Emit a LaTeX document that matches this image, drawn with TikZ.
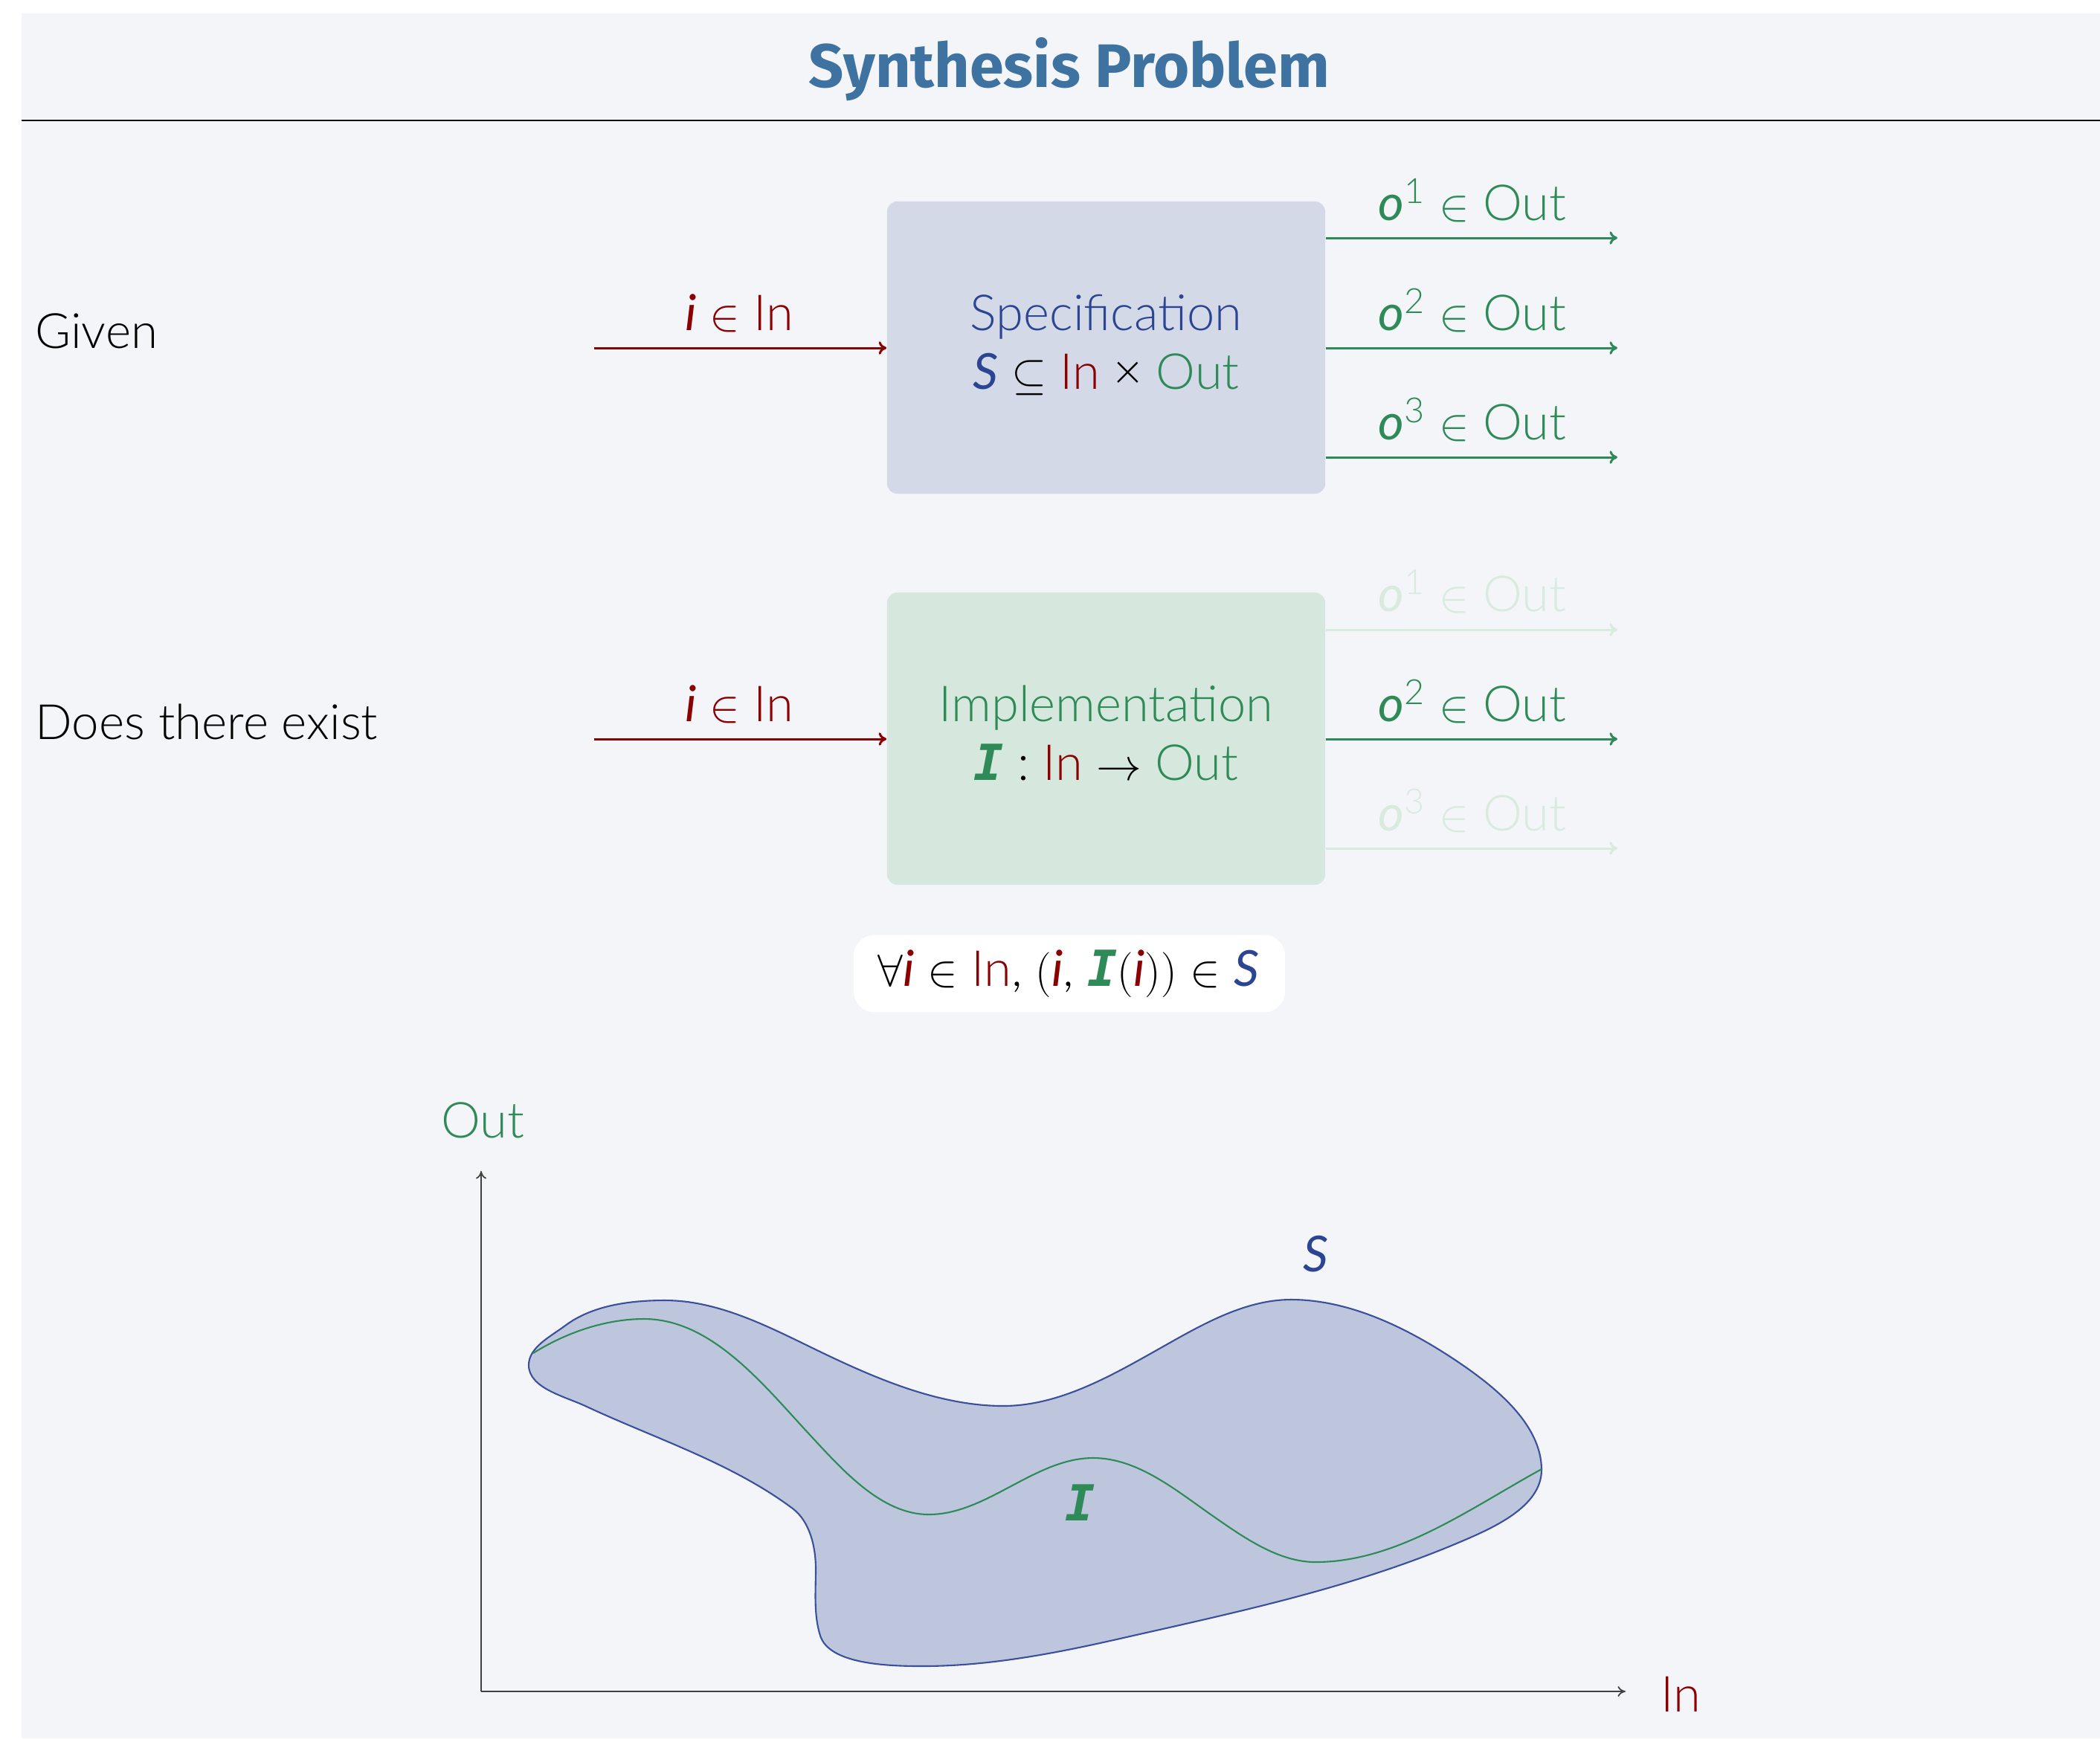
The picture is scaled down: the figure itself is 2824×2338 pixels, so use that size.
\documentclass[tikz,border=0pt]{standalone}
\usepackage{fontspec}
\usetikzlibrary{arrows.meta}
\IfFontExistsTF{Lato Light}{\setmainfont{Lato Light}[ItalicFont=Lato Italic,BoldFont=Lato Bold]}{\setmainfont{Lato}}
\IfFontExistsTF{Lato Italic}{\newfontfamily\latoit{Lato Italic}}{\newfontfamily\latoit{Lato}[UprightFont=*]}
\newfontfamily\titlefont{Fira Sans}
\newfontfamily\monoI{DejaVu Sans Mono}
\definecolor{bgc}{HTML}{F4F5F9}
\definecolor{redc}{HTML}{8B0000}
\definecolor{greenc}{HTML}{2E8B57}
\definecolor{bluec}{HTML}{2B4593}
\definecolor{titlec}{HTML}{3E72A0}
\definecolor{specfill}{HTML}{D4D9E7}
\definecolor{implfill}{HTML}{D6E8DE}
\definecolor{blobfill}{HTML}{BDC6DC}
\definecolor{blobline}{HTML}{3B4F9C}
\definecolor{fadec}{HTML}{D9EADF}
\newcommand{\myi}{{\latoit i}}
\newcommand{\myo}{{\latoit o}}
\newcommand{\myS}{{\latoit S}}
\newcommand{\myI}{{\monoI\bfseries\itshape I}}
\tikzset{
  body/.style={font=\fontsize{19}{22.5}\selectfont, inner sep=0pt, anchor=base},
  side/.style={font=\fontsize{18.6}{22}\selectfont, inner sep=0pt, anchor=base west},
  flow/.style={line width=0.85pt, -{To[length=3pt,width=5pt]}},
  axisline/.style={line width=0.5pt, draw=black!75, -{To[length=3pt,width=4pt]}},
  bigbox/.style={rounded corners=4pt, minimum width=5.89cm, minimum height=3.93cm, inner sep=0pt},
}
\begin{document}
\begin{tikzpicture}[x=0.01cm,y=-0.01cm]
\useasboundingbox (0,0) rectangle (2824,2338);
\fill[bgc] (29,18) rectangle (2824,2338);
% title
\node[font=\titlefont\bfseries\fontsize{23.5}{28}\selectfont, text=titlec, anchor=base, inner sep=0pt] (title) at (1438,117) {Synthesis Problem};
\coordinate (ruleL) at (29,162);
\coordinate (ruleR) at (2824,162);
\draw[line width=0.7pt] (ruleL) -- (ruleR);
% left labels
\node[side] (given) at (47,468) {Given};
\node[side] (exist) at (47,994) {Does there exist};
% specification box
\node[bigbox, fill=specfill] (spec) at (1487.5,467.5) {};
\node[body, text=bluec] (spect) at (1487.5,444) {Specification};
\node[body] (specf) at (1487.5,523) {{\color{bluec}\myS} $\subseteq$ {\color{redc}In} \texttimes\ {\color{greenc}Out}};
\coordinate (in1) at (799,468);
\draw[flow, redc] (in1) -- (in1 -| spec.west);
\node[body, text=redc] (lin1) at (994,444) {\myi\ $\in$ In};
\coordinate (o11) at (2175,320);
\coordinate (o12) at (2175,468);
\coordinate (o13) at (2175,615);
\draw[flow, greenc] (spec.east |- o11) -- (o11);
\draw[flow, greenc] (spec.east |- o12) -- (o12);
\draw[flow, greenc] (spec.east |- o13) -- (o13);
\node[body, text=greenc] (lo11) at (1980,296) {\myo\textsuperscript{1} $\in$ Out};
\node[body, text=greenc] (lo12) at (1980,444) {\myo\textsuperscript{2} $\in$ Out};
\node[body, text=greenc] (lo13) at (1980,591) {\myo\textsuperscript{3} $\in$ Out};
% implementation box
\node[bigbox, fill=implfill] (impl) at (1487.5,993.5) {};
\node[body, text=greenc] (implt) at (1487.5,970) {Implementation};
\node[body] (implf) at (1487.5,1049) {{\color{greenc}\myI} : {\color{redc}In} $\rightarrow$ {\color{greenc}Out}};
\coordinate (in2) at (799,994);
\draw[flow, redc] (in2) -- (in2 -| impl.west);
\node[body, text=redc] (lin2) at (994,970) {\myi\ $\in$ In};
\coordinate (o21) at (2175,847);
\coordinate (o22) at (2175,994);
\coordinate (o23) at (2175,1141);
\draw[flow, fadec] (impl.east |- o21) -- (o21);
\draw[flow, greenc] (impl.east |- o22) -- (o22);
\draw[flow, fadec] (impl.east |- o23) -- (o23);
\node[body, text=fadec] (lo21) at (1980,822) {\myo\textsuperscript{1} $\in$ Out};
\node[body, text=greenc] (lo22) at (1980,970) {\myo\textsuperscript{2} $\in$ Out};
\node[body, text=fadec] (lo23) at (1980,1117) {\myo\textsuperscript{3} $\in$ Out};
% formula
\node[rounded corners=8pt, fill=white, minimum width=5.8cm, minimum height=1.04cm, inner sep=0pt] (fbox) at (1438,1309.5) {};
\node[body] (form) at (1437,1326) {$\forall$\textcolor{redc}{\myi}\ $\in$ \textcolor{redc}{In}, $\big($\textcolor{redc}{\myi}, \textcolor{greenc}{\myI}$($\textcolor{redc}{\myi}$)\big)$ $\in$ \textcolor{bluec}{\myS}};
% plot
\coordinate (O) at (647,2275);
\coordinate (ytop) at (647,1575);
\coordinate (xend) at (2186,2275);
\draw[axisline] (O) -- (ytop);
\draw[axisline] (O) -- (xend);
\node[body, text=greenc] (lout) at (649,1530) {Out};
\node[body, text=redc, anchor=base west] (lin) at (2233,2302) {In};
\draw[blobline, fill=blobfill, line width=0.6pt]
 (711,1836) .. controls (711,1812) and (740.8,1797.4) .. (760,1783)
 .. controls (796.8,1755.4) and (848,1749) .. (894,1749)
 .. controls (970,1749) and (1040.6,1788.3) .. (1109,1821)
 .. controls (1183.7,1856.7) and (1266,1891) .. (1349,1891)
 .. controls (1424,1891) and (1493.7,1850.8) .. (1559,1814)
 .. controls (1613.8,1783.1) and (1673,1748) .. (1736,1748)
 .. controls (1816,1748) and (1894.6,1787.2) .. (1961,1832)
 .. controls (2011.6,1866.2) and (2073,1916) .. (2073,1977)
 .. controls (2073,2027) and (2007,2055.5) .. (1961,2075)
 .. controls (1815.6,2136.6) and (1659.3,2169.2) .. (1506,2204)
 .. controls (1418.7,2223.8) and (1330,2241) .. (1240,2241)
 .. controls (1192,2241) and (1115,2238) .. (1103,2200)
 .. controls (1094,2171.5) and (1097,2140) .. (1097,2110)
 .. controls (1097,2081) and (1089.2,2046.4) .. (1066,2029)
 .. controls (983,1967) and (881,1935) .. (787,1891)
 .. controls (759,1878) and (711,1867) .. (711,1836) -- cycle;
\draw[greenc, line width=0.6pt]
 (717,1820) .. controls (761.2,1792.4) and (814,1774) .. (866,1774)
 .. controls (958,1774) and (1028.4,1864.8) .. (1091,1932)
 .. controls (1133.8,1978) and (1186,2037) .. (1249,2037)
 .. controls (1327,2037) and (1392,1961) .. (1470,1961)
 .. controls (1530,1961) and (1581.8,2004.8) .. (1631,2039)
 .. controls (1672,2067.5) and (1719,2101) .. (1769,2101)
 .. controls (1879,2101) and (1976.7,2028.8) .. (2073,1976);
\node[body, text=bluec] (lS) at (1769,1710) {\myS};
\node[body, text=greenc] (lI) at (1453,2045) {\myI};
\end{tikzpicture}
\end{document}
